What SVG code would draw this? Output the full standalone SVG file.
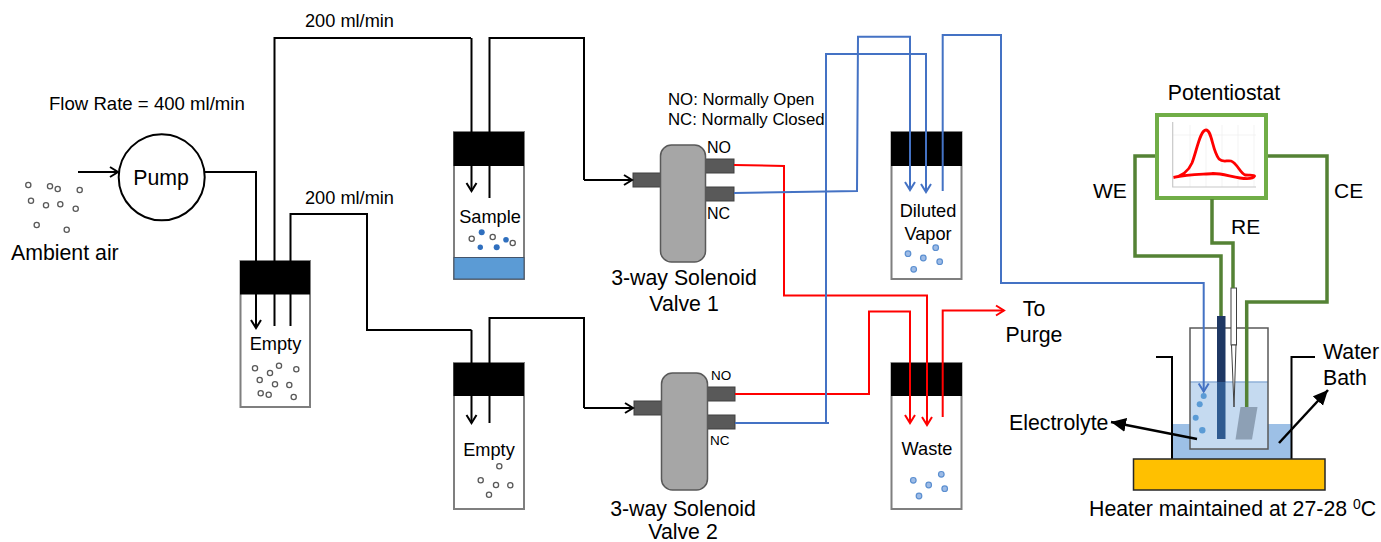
<svg xmlns="http://www.w3.org/2000/svg" width="1381" height="542" viewBox="0 0 1381 542">
<style>
text{font-family:"Liberation Sans",Arial,sans-serif;fill:#000;font-size:21.3px}
.m{text-anchor:middle}
.s18{font-size:18.2px}
.s16{font-size:16.8px}
.bottle{fill:#fff;stroke:#7f7f7f;stroke-width:2}
.cap{fill:#000}
.port{fill:#595959;stroke:#404040;stroke-width:1}
.body{fill:#a6a6a6;stroke:#595959;stroke-width:1.5}
.air{fill:#fff;stroke:#595959;stroke-width:1.3}
.vap{fill:#9dbbe6;stroke:#5b8fd0;stroke-width:1.2}
.smp{fill:#2f6fbe}
.k,.r,.b,.g{fill:none;stroke-linejoin:miter}
.k{stroke:#000;stroke-width:2}
.r{stroke:#f00;stroke-width:2}
.b{stroke:#4472c4;stroke-width:2}
.g{stroke:#548235;stroke-width:3.5}
.ka{marker-end:url(#ak)}
.ra{marker-end:url(#ar)}
.ba{marker-end:url(#ab)}
</style>
<defs>
<marker id="ak" markerUnits="userSpaceOnUse" markerWidth="14" markerHeight="16" refX="10" refY="7" orient="auto"><path d="M2 2L10 7L2 12" fill="none" stroke="#000" stroke-width="2"/></marker>
<marker id="ar" markerUnits="userSpaceOnUse" markerWidth="14" markerHeight="16" refX="10" refY="7" orient="auto"><path d="M2 2L10 7L2 12" fill="none" stroke="#f00" stroke-width="2"/></marker>
<marker id="ab" markerUnits="userSpaceOnUse" markerWidth="14" markerHeight="16" refX="10" refY="7" orient="auto"><path d="M2 2L10 7L2 12" fill="none" stroke="#4472c4" stroke-width="2"/></marker>
<marker id="fk" markerUnits="userSpaceOnUse" markerWidth="18" markerHeight="16" refX="15" refY="7" orient="auto"><path d="M0 0L15 7L0 14Z" fill="#000"/></marker>
</defs>

<g id="labels">
<text x="49" y="110" style="font-size:18.6px">Flow Rate = 400 ml/min</text>
<text x="305" y="27" class="s18">200 ml/min</text>
<text x="305" y="204" class="s18">200 ml/min</text>
<text x="668" y="105" class="s16">NO: Normally Open</text>
<text x="668" y="125" class="s16">NC: Normally Closed</text>
</g>

<g id="ambient-air">
<g class="air"><circle cx="28.3" cy="185" r="2.6"/><circle cx="50" cy="186.3" r="2.6"/><circle cx="57.7" cy="189" r="2.6"/><circle cx="79.7" cy="190" r="2.6"/><circle cx="31" cy="200.7" r="2.6"/><circle cx="46" cy="205.3" r="2.6"/><circle cx="60.3" cy="204.3" r="2.6"/><circle cx="75.7" cy="208.7" r="2.6"/><circle cx="36.7" cy="225" r="2.6"/><circle cx="66.7" cy="229.7" r="2.6"/></g>
<text x="11" y="260">Ambient air</text>
</g>

<g id="pump">
<circle cx="161.7" cy="177.3" r="43" fill="#fff" stroke="#000" stroke-width="2"/>
<text x="161" y="185" class="m">Pump</text>
</g>

<g id="empty-1">
<rect x="240.5" y="261" width="69.5" height="146" class="bottle"/>
<rect x="240" y="261" width="70" height="33.5" class="cap"/>
<text x="275.5" y="350" class="s18 m">Empty</text>
<g class="air"><circle cx="255" cy="368.3" r="2.6"/><circle cx="279" cy="365.7" r="2.6"/><circle cx="270" cy="373" r="2.6"/><circle cx="296.3" cy="369.3" r="2.6"/><circle cx="259.7" cy="380" r="2.6"/><circle cx="275" cy="384.3" r="2.6"/><circle cx="289.3" cy="385" r="2.6"/><circle cx="260.7" cy="393.3" r="2.6"/><circle cx="268.7" cy="394.7" r="2.6"/><circle cx="293.7" cy="397" r="2.6"/></g>
</g>

<g id="sample">
<rect x="454" y="132" width="70" height="147" class="bottle"/>
<rect x="454" y="257.500" width="70" height="21.500" fill="#5b9bd5" stroke="#44546a" stroke-width="1"/>
<rect x="453.500" y="132" width="70.500" height="34" class="cap"/>
<text x="490" y="223" class="s18 m">Sample</text>
<g class="air"><circle cx="471.7" cy="238.700" r="2.600"/><circle cx="492.700" cy="237" r="2.600"/><circle cx="512.700" cy="243" r="2.600"/></g>
<g class="smp"><circle cx="481.700" cy="232.300" r="3"/><circle cx="480.300" cy="247.300" r="2.700"/><circle cx="496.700" cy="247.300" r="3"/><circle cx="506" cy="239.700" r="2.800"/></g>
</g>

<g id="empty-2">
<rect x="454" y="363" width="70" height="146" class="bottle"/>
<rect x="453.500" y="363" width="70.500" height="33" class="cap"/>
<text x="489" y="456" class="s18 m">Empty</text>
<g class="air"><circle cx="499.300" cy="466.300" r="2.600"/><circle cx="480.700" cy="480.300" r="2.600"/><circle cx="496" cy="485" r="2.600"/><circle cx="510.300" cy="485.300" r="2.600"/><circle cx="489" cy="494.700" r="2.600"/></g>
</g>

<g id="valve-1">
<rect x="633" y="173" width="29" height="14" class="port"/>
<rect x="705" y="159" width="29" height="14" class="port"/>
<rect x="705" y="187" width="29" height="14" class="port"/>
<rect x="660.500" y="145" width="45" height="117" rx="11" class="body"/>
<text x="707" y="153" style="font-size:16px">NO</text>
<text x="707" y="219" style="font-size:16px">NC</text>
<text x="684" y="285" class="m">3-way Solenoid</text>
<text x="684" y="311" class="m">Valve  1</text>
</g>

<g id="valve-2">
<rect x="634" y="401" width="29" height="14" class="port"/>
<rect x="707" y="387" width="28" height="14" class="port"/>
<rect x="707" y="415" width="28" height="14" class="port"/>
<rect x="661.500" y="373" width="46" height="117" rx="11" class="body"/>
<text x="711" y="380" style="font-size:13.500px">NO</text>
<text x="710" y="445" style="font-size:13.500px">NC</text>
<text x="683" y="516" class="m">3-way Solenoid</text>
<text x="683" y="539" class="m">Valve  2</text>
</g>

<g id="diluted-vapor">
<rect x="891.500" y="132" width="70" height="147" class="bottle"/>
<rect x="891" y="132" width="71" height="34" class="cap"/>
<text x="928" y="217" class="s18 m">Diluted</text>
<text x="928" y="240" class="s18 m">Vapor</text>
<g class="vap"><circle cx="908" cy="253.700" r="2.800"/><circle cx="935.700" cy="247.700" r="2.800"/><circle cx="923.300" cy="258" r="2.800"/><circle cx="939.700" cy="261.700" r="2.800"/><circle cx="913.700" cy="269.300" r="2.800"/></g>
</g>

<g id="waste">
<rect x="891.500" y="363" width="70" height="146" class="bottle"/>
<rect x="891" y="363" width="71" height="33" class="cap"/>
<text x="927" y="455" class="s18 m">Waste</text>
<g class="vap"><circle cx="913.300" cy="480.300" r="2.800"/><circle cx="941.300" cy="474.300" r="2.800"/><circle cx="928.700" cy="485" r="2.800"/><circle cx="944.700" cy="488.700" r="2.800"/><circle cx="919" cy="496" r="2.800"/></g>
</g>

<g id="to-purge">
<text x="1034" y="316" class="m">To</text>
<text x="1034" y="342" class="m">Purge</text>
</g>

<g id="cell">
<path d="M1172 424H1291.500V459H1172Z" fill="#9dc0e6"/>
<path d="M1156 357H1172V459M1315 357H1291.500V459" fill="none" stroke="#000" stroke-width="2"/>
<rect x="1190" y="382" width="78" height="67" fill="#c5daf0"/>
<path d="M1190 382H1268" stroke="#8fb0d8" stroke-width="1.500"/>
<path d="M1190 328H1268V449H1190Z" fill="none" stroke="#595959" stroke-width="1.500"/>
<rect x="1133.500" y="459" width="191.500" height="31" fill="#ffc000" stroke="#262626" stroke-width="1.500"/>
<rect x="1217" y="316" width="8.500" height="66" fill="#1f3864"/>
<rect x="1217" y="382" width="8.500" height="57" fill="#2f5a90"/>
<rect x="1231" y="288" width="5.500" height="57" fill="#fff" stroke="#404040" stroke-width="1"/>
<path d="M1231.500 345H1236L1234 407Z" fill="#fff" stroke="#404040" stroke-width="1"/>
<path d="M1240.500 407H1257.500L1252 439.500H1235.500Z" fill="#8da0b5"/>
<g fill="#5b9bd5"><circle cx="1203.700" cy="396" r="3"/><circle cx="1199.700" cy="404.300" r="3"/><circle cx="1195.700" cy="417.700" r="3"/><circle cx="1202.300" cy="430.300" r="3.200"/></g>
<text x="1009" y="430">Electrolyte</text>
<text x="1323" y="359">Water</text>
<text x="1323" y="385">Bath</text>
<text x="1089" y="516">Heater maintained at 27-28 <tspan dy="-7" style="font-size:14px">0</tspan><tspan dy="7">C</tspan></text>
</g>

<g id="potentiostat">
<text x="1224" y="100" class="m">Potentiostat</text>
<rect x="1157" y="115" width="109" height="83" fill="#fff" stroke="#70ad47" stroke-width="4"/>
<path d="M1190 125V187M1206 125V187M1222 125V187M1238 125V187M1254 125V187M1173 135H1256" stroke="#eee" stroke-width="0.700" fill="none"/>
<path d="M1172.700 122V187H1256" stroke="#c8c8c8" stroke-width="1.200" fill="none"/>
<path d="M1173.500 177.500C1182 176 1188 172 1192 163C1197 150 1200 130 1206 130C1212 130 1212 150 1219 159C1223 163 1227 160 1231 161C1237 163 1240 173 1245 175C1249 175.500 1254 174.500 1254.500 176C1253 179 1247 179 1240 178C1230 176.500 1222 173.500 1213 173.500C1204 174.500 1190 174 1173.500 177.500Z" fill="none" stroke="#f00" stroke-width="2.800"/>
<text x="1093" y="198" style="font-size:21px">WE</text>
<text x="1334" y="198" style="font-size:21px">CE</text>
<text x="1231" y="234" style="font-size:21px">RE</text>
</g>

<g id="connectors">
<path class="k ka" d="M78 172H118"/>
<path class="k ka" d="M205 172H256V328"/>
<path class="k" d="M274.500 326V38H471"/>
<path class="k ka" d="M471.500 38V191"/>
<path class="k" d="M290.500 326V214H367V330H471.500"/>
<path class="k ka" d="M471.500 330V423"/>
<path class="k" d="M489.500 198V38H584V180"/>
<path class="k ka" d="M584 180H632"/>
<path class="k" d="M489.500 423V318H584V408"/>
<path class="k ka" d="M584 408H633"/>
<path class="r ra" d="M734 165L784 166V295.500H927V425"/>
<path class="r ra" d="M735 394H869V311.500H910V423"/>
<path class="r ra" d="M942.700 417V310.500H1004"/>
<path class="b ba" d="M734 193L857 191L858 36.700H910V190"/>
<path class="b ba" d="M735 423H829M826 423V54H926V192"/>
<path class="b ba" d="M942.700 191V35H1001V283H1203.700V391.500"/>
<path class="g" d="M1155 156H1135V256H1221V316"/>
<path class="g" d="M1268 156H1327V302H1246.700V407"/>
<path class="g" d="M1212 199V243H1233V288"/>
<path d="M1197 439L1111 422" stroke="#000" stroke-width="2.500" fill="none" marker-end="url(#fk)"/>
<path d="M1279 443L1328 390" stroke="#000" stroke-width="2.500" fill="none" marker-end="url(#fk)"/>
</g>
</svg>
